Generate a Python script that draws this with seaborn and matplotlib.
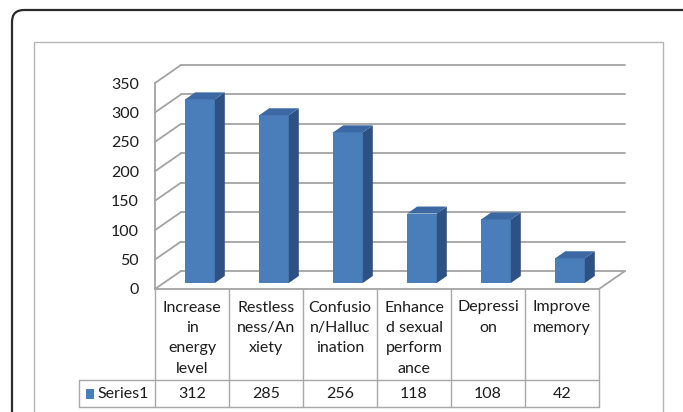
import numpy as np
import pandas as pd
import matplotlib
matplotlib.use("Agg")
import matplotlib.pyplot as plt
import matplotlib.transforms as mtransforms
from matplotlib.patches import Polygon, FancyBboxPatch, Rectangle
import seaborn as sns

categories = ["Increase in energy level", "Restlessness/Anxiety", "Confusion/Hallucination",
              "Enhanced sexual performance", "Depression", "Improve memory"]
wrapped_labels = ["Increase\nin\nenergy\nlevel", "Restless\nness/An\nxiety", "Confusio\nn/Halluc\nination",
                  "Enhance\nd sexual\nperform\nance", "Depressi\non", "Improve\nmemory"]
counts = [312, 285, 256, 118, 108, 42]
yticks = [0, 50, 100, 150, 200, 250, 300, 350]
series_name = "Series1"

W, H = 683, 412
FRONT = "#4a7ebb"
SIDE = "#2e5183"
TOP = "#3c69a3"
GRID = "#a3a3a3"
TABLE = "#a8a8a8"
TXT = "#1c1c1c"
FS = 11.5

sns.set_theme(style="white")
plt.rcParams["font.family"] = ["Lato", "DejaVu Sans"]

fig = plt.figure(figsize=(W / 100, H / 100), dpi=100)


def fx(px):
    return px / W


def fy(py):
    return 1 - py / H


# background layer in pixel coords (frames)
bg = fig.add_axes([0, 0, 1, 1], zorder=0)
bg.set_xlim(0, W)
bg.set_ylim(H, 0)
bg.axis("off")
bg.add_patch(FancyBboxPatch((12, 10), 700, 450, boxstyle="round,pad=0,rounding_size=12",
                            ec="#2b2b2b", fc="none", lw=1.6))
bg.add_patch(Rectangle((34, 42), 629, 420, ec="#b5b5b5", fc="none", lw=1.0))

# main plot axes = front plane of the 3d box
ax = fig.add_axes([fx(155), fy(289), fx(599) - fx(155), fy(83) - fy(289)], zorder=1)
ax.patch.set_alpha(0)
df = pd.DataFrame({"category": categories, "count": counts})
sns.barplot(data=df, x="category", y="count", color=FRONT, width=0.4, saturation=1,
            ax=ax, zorder=3, linewidth=0)
ax.set_xlim(-0.5, 5.5)
ax.set_ylim(0, 350)
ax.set_yticks(yticks)
ax.set_xticks([])
ax.set_xlabel("")
ax.set_ylabel("")
ax.tick_params(axis="y", length=0, pad=11.5, labelsize=FS, labelcolor=TXT)
for s in ax.spines.values():
    s.set_visible(False)


def to_fig(x, y, dx=0, dy=0):
    px, py = ax.transData.transform((x, y))
    return fig.transFigure.inverted().transform((px + dx, py + dy))


WALL = (26, 18)      # depth of the box in pixels
POS = (8, 6)         # bar position inside the depth
DEPTH = (18, 13)     # back face of the bar

# back wall gridlines + left wall diagonals
for t in yticks:
    a = to_fig(-0.5, t, *WALL)
    b = to_fig(5.5, t, *WALL)
    ax.plot([a[0], b[0]], [a[1], b[1]], transform=fig.transFigure, color=GRID, lw=1.3,
            clip_on=False, zorder=1)
    f = to_fig(-0.5, t)
    ax.plot([f[0], a[0]], [f[1], a[1]], transform=fig.transFigure, color=GRID, lw=1.3,
            clip_on=False, zorder=1)
# left front edge and floor right edge
p0, p1 = to_fig(-0.5, 0), to_fig(-0.5, 350)
ax.plot([p0[0], p1[0]], [p0[1], p1[1]], transform=fig.transFigure, color=GRID, lw=1.3, clip_on=False)
q0, q1 = to_fig(5.5, 0), to_fig(5.5, 0, *WALL)
ax.plot([q0[0], q1[0]], [q0[1], q1[1]], transform=fig.transFigure, color=GRID, lw=1.3, clip_on=False)

# 3d bar faces
off = mtransforms.ScaledTranslation(POS[0] / 100, POS[1] / 100, fig.dpi_scale_trans)
for p in ax.patches:
    x0 = p.get_x()
    x1 = x0 + p.get_width()
    v = p.get_height()
    p.set_transform(ax.transData + off)
    p.set_clip_on(False)
    side = [to_fig(x1, 0, *POS), to_fig(x1, 0, *DEPTH), to_fig(x1, v, *DEPTH), to_fig(x1, v, *POS)]
    top = [to_fig(x0, v, *POS), to_fig(x1, v, *POS), to_fig(x1, v, *DEPTH), to_fig(x0, v, *DEPTH)]
    ax.add_patch(Polygon(side, closed=True, transform=fig.transFigure, fc=SIDE, ec="none",
                         clip_on=False, zorder=3))
    ax.add_patch(Polygon(top, closed=True, transform=fig.transFigure, fc=TOP, ec="none",
                         clip_on=False, zorder=3))

# data table
bt = mtransforms.blended_transform_factory(ax.transData, fig.transFigure)
ax.plot([-0.5, 5.5], [fy(289), fy(289)], transform=bt, color=GRID, lw=1.3, clip_on=False)
for i in range(len(categories) + 1):
    ax.plot([i - 0.5, i - 0.5], [fy(289), fy(407)], transform=bt, color=TABLE, lw=1.0, clip_on=False)
right = to_fig(5.5, 0)[0]
for yy in (380, 407):
    ax.plot([fx(79), right], [fy(yy), fy(yy)], transform=fig.transFigure, color=TABLE, lw=1.0,
            clip_on=False)
ax.plot([fx(79), fx(79)], [fy(380), fy(407)], transform=fig.transFigure, color=TABLE, lw=1.0,
        clip_on=False)

for i, (lab, v) in enumerate(zip(wrapped_labels, counts)):
    ax.text(i, fy(300.5), lab, transform=bt, ha="center", va="top", fontsize=FS,
            linespacing=1.58, color=TXT, clip_on=False)
    ax.text(i, fy(393.5), str(v), transform=bt, ha="center", va="center", fontsize=FS,
            color=TXT, clip_on=False)

bg.add_patch(Rectangle((86, 389), 8, 10, fc=FRONT, ec="none"))
bg.text(97, 393.5, series_name, ha="left", va="center", fontsize=FS, color=TXT)

fig.savefig("out.png", dpi=100)
